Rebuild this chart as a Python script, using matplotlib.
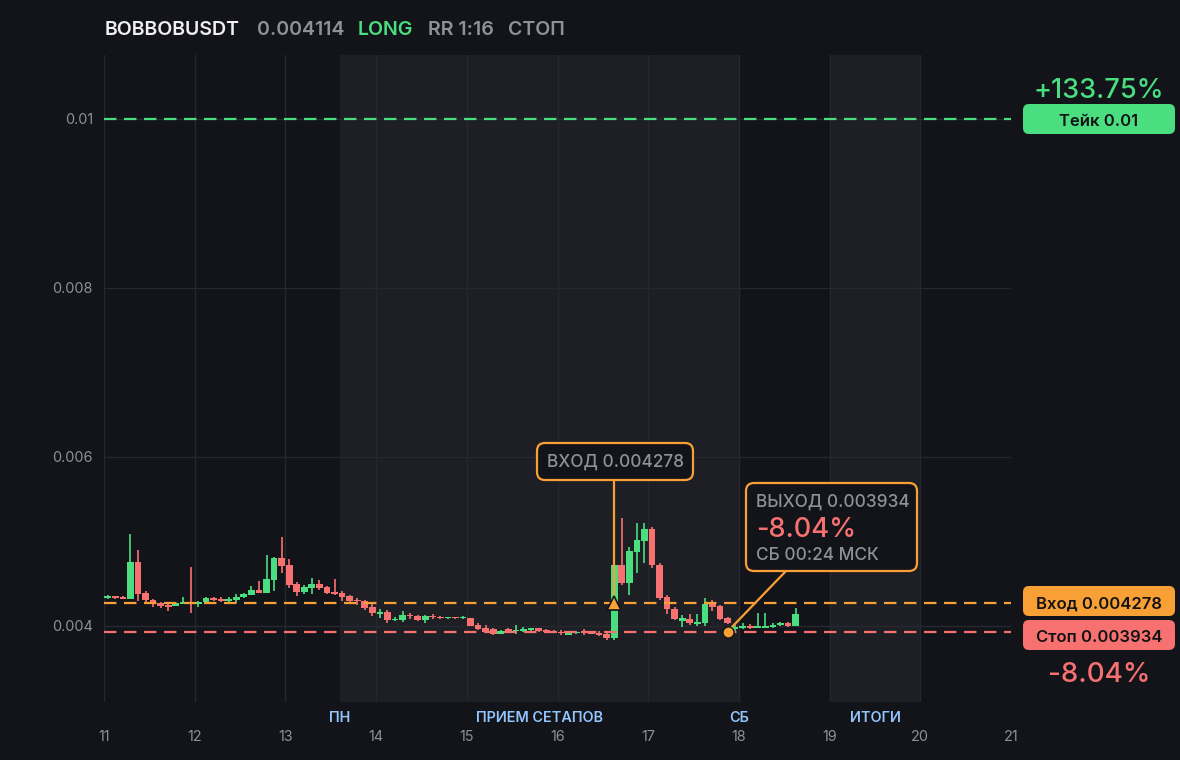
import numpy as np
import matplotlib
matplotlib.use("Agg")
import matplotlib.pyplot as plt
import matplotlib.transforms as mtransforms
from matplotlib.patches import FancyBboxPatch

plt.rcParams['font.family'] = ['Inter', 'DejaVu Sans']

# ---- data ----
symbol = "BOBBOBUSDT"
last_price = "0.004114"
side = "LONG"
rr_text = "RR 1:16"
status = "СТОП"

take_price = 0.01
entry_price = 0.004278
stop_price = 0.003934
take_pct = "+133.75%"
stop_pct = "-8.04%"

entry_time = 16.625
exit_time = 17.875
exit_label = "СБ 00:24 МСК"

# 2h candles starting day 11
candle_start = 11.0
candle_step = 1 / 12

opens = [0.004335, 0.004355, 0.004347, 0.004320, 0.004757, 0.004394, 0.004308, 0.004272,
         0.004248, 0.004240, 0.004265, 0.004285, 0.004257, 0.004281, 0.004330, 0.004325,
         0.004300, 0.004311, 0.004343, 0.004370, 0.004426, 0.004394, 0.004548, 0.004805,
         0.004722, 0.004497, 0.004402, 0.004450, 0.004497, 0.004462, 0.004402, 0.004390,
         0.004355, 0.004304, 0.004292, 0.004225, 0.004146, 0.004166, 0.004071, 0.004071,
         0.004127, 0.004118, 0.004071, 0.004118, 0.004110, 0.004089, 0.004106, 0.004090,
         0.004094, 0.004016, 0.003980, 0.003964, 0.003909, 0.003964, 0.003937, 0.003945,
         0.003953, 0.003972, 0.003953, 0.003941, 0.003933, 0.003897, 0.003913, 0.003937,
         0.003929, 0.003921, 0.003905, 0.003854, 0.004722, 0.004512, 0.004879, 0.005009,
         0.005148, 0.004722, 0.004347, 0.004198, 0.004065, 0.004083, 0.004024, 0.004039,
         0.004260, 0.004237, 0.004091, 0.003961, 0.003973, 0.004003, 0.003978, 0.003978,
         0.003988, 0.004008, 0.004035, 0.004003]
highs = [0.004367, 0.004360, 0.004352, 0.005089, 0.004899, 0.004420, 0.004315, 0.004280,
         0.004255, 0.004276, 0.004343, 0.004698, 0.004290, 0.004338, 0.004345, 0.004345,
         0.004343, 0.004378, 0.004394, 0.004470, 0.004532, 0.004840, 0.004816, 0.005053,
         0.004793, 0.004520, 0.004485, 0.004568, 0.004544, 0.004475, 0.004556, 0.004414,
         0.004367, 0.004331, 0.004308, 0.004260, 0.004201, 0.004189, 0.004107, 0.004178,
         0.004158, 0.004130, 0.004134, 0.004146, 0.004118, 0.004110, 0.004110, 0.004118,
         0.004098, 0.004032, 0.004008, 0.003976, 0.003950, 0.003972, 0.004012, 0.003988,
         0.003980, 0.003980, 0.003960, 0.003950, 0.003953, 0.003925, 0.003941, 0.003960,
         0.003937, 0.003937, 0.003921, 0.004780, 0.005278, 0.004938, 0.005219, 0.005222,
         0.005172, 0.004740, 0.004367, 0.004221, 0.004130, 0.004142, 0.004138, 0.004328,
         0.004308, 0.004249, 0.004110, 0.004012, 0.004039, 0.004024, 0.004158, 0.004158,
         0.004035, 0.004051, 0.004047, 0.004209]
lows = [0.004323, 0.004325, 0.004318, 0.004315, 0.004299, 0.004280, 0.004228, 0.004217,
        0.004181, 0.004235, 0.004258, 0.004157, 0.004225, 0.004275, 0.004295, 0.004285,
        0.004283, 0.004268, 0.004331, 0.004362, 0.004388, 0.004388, 0.004418, 0.004631,
        0.004453, 0.004355, 0.004383, 0.004379, 0.004426, 0.004375, 0.004372, 0.004300,
        0.004287, 0.004248, 0.004193, 0.004122, 0.004099, 0.004032, 0.004055, 0.004044,
        0.004087, 0.004055, 0.004040, 0.004087, 0.004079, 0.004083, 0.004087, 0.004087,
        0.004000, 0.003953, 0.003921, 0.003897, 0.003905, 0.003913, 0.003909, 0.003925,
        0.003941, 0.003930, 0.003921, 0.003913, 0.003897, 0.003890, 0.003905, 0.003897,
        0.003900, 0.003878, 0.003838, 0.003834, 0.004490, 0.004367, 0.004627, 0.004745,
        0.004686, 0.004310, 0.004146, 0.004071, 0.003992, 0.004012, 0.004004, 0.004000,
        0.004178, 0.004071, 0.004020, 0.003945, 0.003964, 0.003960, 0.003972, 0.003972,
        0.003972, 0.003996, 0.003988, 0.003996]
closes = [0.004355, 0.004331, 0.004323, 0.004757, 0.004379, 0.004308, 0.004264, 0.004237,
          0.004225, 0.004270, 0.004285, 0.004265, 0.004284, 0.004330, 0.004310, 0.004300,
          0.004325, 0.004347, 0.004379, 0.004426, 0.004394, 0.004556, 0.004800, 0.004714,
          0.004485, 0.004402, 0.004462, 0.004497, 0.004450, 0.004390, 0.004379, 0.004343,
          0.004300, 0.004296, 0.004217, 0.004157, 0.004169, 0.004067, 0.004087, 0.004127,
          0.004115, 0.004071, 0.004118, 0.004106, 0.004089, 0.004106, 0.004094, 0.004102,
          0.004004, 0.003968, 0.003929, 0.003909, 0.003944, 0.003921, 0.003953, 0.003964,
          0.003972, 0.003941, 0.003929, 0.003921, 0.003913, 0.003921, 0.003933, 0.003913,
          0.003909, 0.003890, 0.003862, 0.004722, 0.004512, 0.004888, 0.005018, 0.005148,
          0.004722, 0.004335, 0.004198, 0.004079, 0.004091, 0.004032, 0.004051, 0.004260,
          0.004221, 0.004079, 0.004039, 0.003992, 0.004000, 0.003980, 0.004003, 0.004003,
          0.004012, 0.004039, 0.004000, 0.004140]

day_ticks = [11, 12, 13, 14, 15, 16, 17, 18, 19, 20, 21]
price_ticks = [0.004, 0.006, 0.008, 0.01]
price_labels = ["0.004", "0.006", "0.008", "0.01"]

sessions = [(13.6, 18.0), (19.0, 20.0)]
session_labels = ["ПН", "ПРИЕМ СЕТАПОВ", "СБ", "ИТОГИ"]
session_label_x = [13.6, 15.8, 18.0, 19.5]

# ---- style ----
BG = '#131419'
SHADE = '#1e1f24'
GRID = '#27282e'
GREEN = '#4ade80'
RED = '#f87171'
ORANGE = '#f8a035'
GREY = '#8e9199'
BLUE = '#93c5fd'

fig = plt.figure(figsize=(11.8, 7.6), dpi=100, facecolor=BG)
ax = fig.add_axes([104 / 1180, 58 / 760, 907 / 1180, 647 / 760])
ax.set_facecolor(BG)
ax.set_xlim(11, 21)
ax.set_ylim(0.0031006, 0.010757)
for s in ax.spines.values():
    s.set_visible(False)

for a, b in sessions:
    ax.axvspan(a, b, color=SHADE, lw=0, zorder=0)

ax.set_xticks(day_ticks)
ax.set_xticklabels([str(d) for d in day_ticks])
ax.set_yticks(price_ticks)
ax.set_yticklabels(price_labels)
ax.tick_params(axis='both', length=0, colors=GREY, labelsize=10.4)
ax.tick_params(axis='x', pad=20)
ax.tick_params(axis='y', pad=8)
ax.grid(True, color=GRID, lw=1, zorder=0.5)
ax.set_axisbelow(True)

o = np.array(opens)
h = np.array(highs)
l = np.array(lows)
c = np.array(closes)
t = candle_start + (np.arange(len(o)) + 0.5) * candle_step
cols = np.where(c >= o, GREEN, RED)
ax.vlines(t, l, h, colors=cols, lw=1.2, zorder=3)
body = np.maximum(np.abs(c - o), 0.000014)
ax.bar(t, body, bottom=np.minimum(o, c), width=0.074, color=cols, lw=0, zorder=3.5)

dash = (0, (5.6, 3.4))
ax.axhline(take_price, color=GREEN, lw=1.6, ls=dash, zorder=4)
ax.axhline(entry_price, color=ORANGE, lw=1.6, ls=dash, zorder=4)
ax.axhline(stop_price, color=RED, lw=1.6, ls=dash, zorder=4)

# overlay in pixel coordinates
ov = fig.add_axes([0, 0, 1, 1], zorder=5)
ov.set_xlim(0, 1180)
ov.set_ylim(760, 0)
ov.axis('off')
ov.patch.set_alpha(0)


def to_px(x, y):
    return ov.transData.inverted().transform(ax.transData.transform((x, y)))


def box(x0, y0, x1, y1, fc, ec=None, lw=0, r=6):
    p = FancyBboxPatch((x0, y0), x1 - x0, y1 - y0,
                       boxstyle=f"round,pad=0,rounding_size={r}",
                       fc=fc, ec=ec if ec else fc, lw=lw, zorder=6)
    ov.add_patch(p)


# title
title_parts = [(symbol, '#f0f0f2', 105), (last_price, GREY, 257),
               (side, GREEN, 358), (rr_text, GREY, 428), (status, GREY, 508)]
for txt, col, x in title_parts:
    ov.text(x, 35, txt, color=col, fontsize=14.1, weight='semibold', va='baseline', ha='left')

# session labels
blend = mtransforms.blended_transform_factory(ax.transData, ov.transData)
for lab, x in zip(session_labels, session_label_x):
    ov.text(x, 722, lab, transform=blend, color=BLUE, fontsize=10.4, weight='semibold',
            ha='center', va='baseline')

# right side labels
ov.text(1099, 97.5, take_pct, color=GREEN, fontsize=19.5, weight='medium', ha='center', va='baseline')
box(1023, 104, 1175, 134, GREEN)
ov.text(1099, 126, f"Тейк {take_price:g}", color='#111214', fontsize=12, weight='semibold',
        ha='center', va='baseline', zorder=7)
box(1023, 586, 1175, 616, ORANGE)
ov.text(1099, 609, f"Вход {entry_price}", color='#111214', fontsize=12, weight='semibold',
        ha='center', va='baseline', zorder=7)
box(1023, 620, 1175, 650, RED)
ov.text(1099, 642.5, f"Стоп {stop_price}", color='#111214', fontsize=12, weight='semibold',
        ha='center', va='baseline', zorder=7)
ov.text(1099, 682, stop_pct, color=RED, fontsize=20, weight='medium', ha='center', va='baseline')

# entry annotation
ex, ey = to_px(entry_time, entry_price)
box(537, 443, 693, 480, BG, ORANGE, 1.6, 8)
ov.text(547, 467, f"ВХОД {entry_price}", color=GREY, fontsize=12.4, weight='medium',
        ha='left', va='baseline', zorder=7)
ov.plot([ex, ex], [480, ey], color=ORANGE, lw=1.6, zorder=5.5)
ov.plot([entry_time], [entry_price], transform=ax.transData, marker='^', ms=9.5,
        color=ORANGE, mec=BG, mew=1.2, ls='none', zorder=8, clip_on=False)

# exit annotation
xx, xy = to_px(exit_time, stop_price)
box(746, 483, 917, 571, BG, ORANGE, 1.6, 8)
ov.text(756, 506.5, f"ВЫХОД {stop_price}", color=GREY, fontsize=12.4, weight='medium',
        ha='left', va='baseline', zorder=7)
ov.text(756, 537, stop_pct, color=RED, fontsize=19.6, weight='medium',
        ha='left', va='baseline', zorder=7)
ov.text(756, 559.5, exit_label, color=GREY, fontsize=12.4, weight='medium',
        ha='left', va='baseline', zorder=7)
ov.plot([786, xx], [571, xy], color=ORANGE, lw=1.6, zorder=5.5)
ov.plot([exit_time], [stop_price], transform=ax.transData, marker='o', ms=8,
        color=ORANGE, mec=BG, mew=1, ls='none', zorder=8, clip_on=False)

fig.savefig("out.png", dpi=100, facecolor=BG)
